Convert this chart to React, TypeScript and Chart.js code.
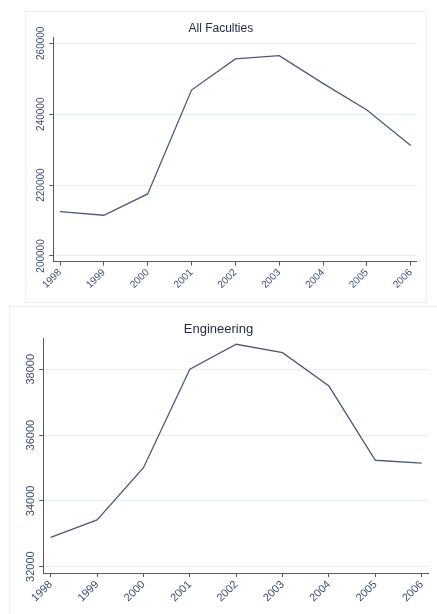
import React, { useEffect, useRef } from "react";
import { Chart, registerables } from "chart.js";

Chart.register(...registerables);

// ---- data ----
const years = [1998, 1999, 2000, 2001, 2002, 2003, 2004, 2005, 2006];
const allFaculties = [212500, 211500, 217500, 246800, 255600, 256500, 248700, 241200, 231200];
const engineering = [32890, 33420, 35010, 38000, 38760, 38505, 37490, 35235, 35150];
const allFacultiesTicks = [200000, 220000, 240000, 260000];
const engineeringTicks = [32000, 34000, 36000, 38000];

const FONT = "'Liberation Sans', Arial, Helvetica, sans-serif";
const LINE_COLOR = "#4a5b7b";
const TEXT_COLOR = "#3b4f74";
const TITLE_COLOR = "#232d46";
const AXIS_COLOR = "#555a60";
const GRID_COLOR = "#e6eff1";
const PANEL_BORDER = "#eceff2";

type PanelProps = {
  title: string;
  values: number[];
  yTicks: number[];
  yMin: number;
  yMax: number;
  xMin: number;
  xMax: number;
  left: number;
  top: number;
  width: number;
  height: number;
  axisWidth: number;
  axisHeight: number;
  padRight: number;
  titleSize: number;
  titlePadTop: number;
  titlePadBottom: number;
  tickSize: number;
  yLabelPad: number;
};

function Panel(p: PanelProps) {
  const ref = useRef<HTMLCanvasElement | null>(null);
  useEffect(() => {
    if (!ref.current) return;
    const chart = new Chart(ref.current, {
      type: "line",
      data: {
        datasets: [
          {
            data: years.map((x, i) => ({ x, y: p.values[i] })),
            borderColor: LINE_COLOR,
            borderWidth: 1.3,
            pointRadius: 0,
            fill: false,
            tension: 0,
          },
        ],
      },
      options: {
        animation: false,
        responsive: false,
        maintainAspectRatio: false,
        devicePixelRatio: 1,
        layout: { padding: { left: 0, right: p.padRight, top: 0, bottom: 0 } },
        plugins: {
          legend: { display: false },
          tooltip: { enabled: false },
          title: {
            display: true,
            text: p.title,
            color: TITLE_COLOR,
            font: { family: FONT, size: p.titleSize, weight: "normal" },
            padding: { top: p.titlePadTop, bottom: p.titlePadBottom },
          },
        },
        scales: {
          x: {
            type: "linear",
            min: p.xMin,
            max: p.xMax,
            afterBuildTicks: (s: any) => {
              s.ticks = years.map((v) => ({ value: v }));
            },
            afterFit: (s: any) => {
              s.height = p.axisHeight;
            },
            grid: {
              drawOnChartArea: false,
              drawTicks: true,
              tickLength: 4,
              tickColor: AXIS_COLOR,
            },
            border: { display: true, color: AXIS_COLOR, width: 1 },
            ticks: {
              autoSkip: false,
              minRotation: 45,
              maxRotation: 45,
              padding: 1,
              color: TEXT_COLOR,
              font: { family: FONT, size: p.tickSize },
              callback: (v: any) => String(v),
            },
          },
          y: {
            type: "linear",
            min: p.yMin,
            max: p.yMax,
            afterBuildTicks: (s: any) => {
              s.ticks = p.yTicks.map((v) => ({ value: v }));
            },
            afterFit: (s: any) => {
              s.width = p.axisWidth;
            },
            grid: {
              color: GRID_COLOR,
              lineWidth: 1,
              drawTicks: true,
              tickLength: 4,
              tickColor: AXIS_COLOR,
            },
            border: { display: true, color: AXIS_COLOR, width: 1 },
            ticks: {
              autoSkip: false,
              minRotation: 90,
              maxRotation: 90,
              crossAlign: "center",
              padding: p.yLabelPad,
              color: TEXT_COLOR,
              font: { family: FONT, size: p.tickSize },
              callback: (v: any) => String(v),
            },
          },
        },
      } as any,
    });
    return () => chart.destroy();
  }, []);
  return (
    <div
      style={{
        position: "absolute",
        left: p.left,
        top: p.top,
        width: p.width,
        height: p.height,
        border: `1px solid ${PANEL_BORDER}`,
        boxSizing: "border-box",
      }}
    >
      <canvas
        ref={ref}
        width={p.width}
        height={p.height}
        style={{ position: "absolute", left: -1, top: -1, width: p.width, height: p.height }}
      />
    </div>
  );
}

export default function App() {
  return (
    <div
      style={{
        position: "fixed",
        left: 0,
        top: 0,
        width: 437,
        height: 614,
        overflow: "hidden",
        background: "#ffffff",
      }}
    >
      <Panel
        title="All Faculties"
        values={allFaculties}
        yTicks={allFacultiesTicks}
        yMin={198390}
        yMax={261690}
        xMin={1997.847}
        xMax={2006.137}
        left={25}
        top={11}
        width={402}
        height={292}
        axisWidth={28.3}
        axisHeight={41.3}
        padRight={10.3}
        titleSize={12}
        titlePadTop={10.8}
        titlePadBottom={1.1}
        tickSize={10}
        yLabelPad={-8.6}
      />
      <Panel
        title="Engineering"
        values={engineering}
        yTicks={engineeringTicks}
        yMin={31808}
        yMax={38951}
        xMin={1997.84}
        xMax={2006.136}
        left={9}
        top={306}
        width={430}
        height={310}
        axisWidth={34.3}
        axisHeight={43}
        padRight={11}
        titleSize={13}
        titlePadTop={15.2}
        titlePadBottom={1.2}
        tickSize={11}
        yLabelPad={-6.5}
      />
    </div>
  );
}
